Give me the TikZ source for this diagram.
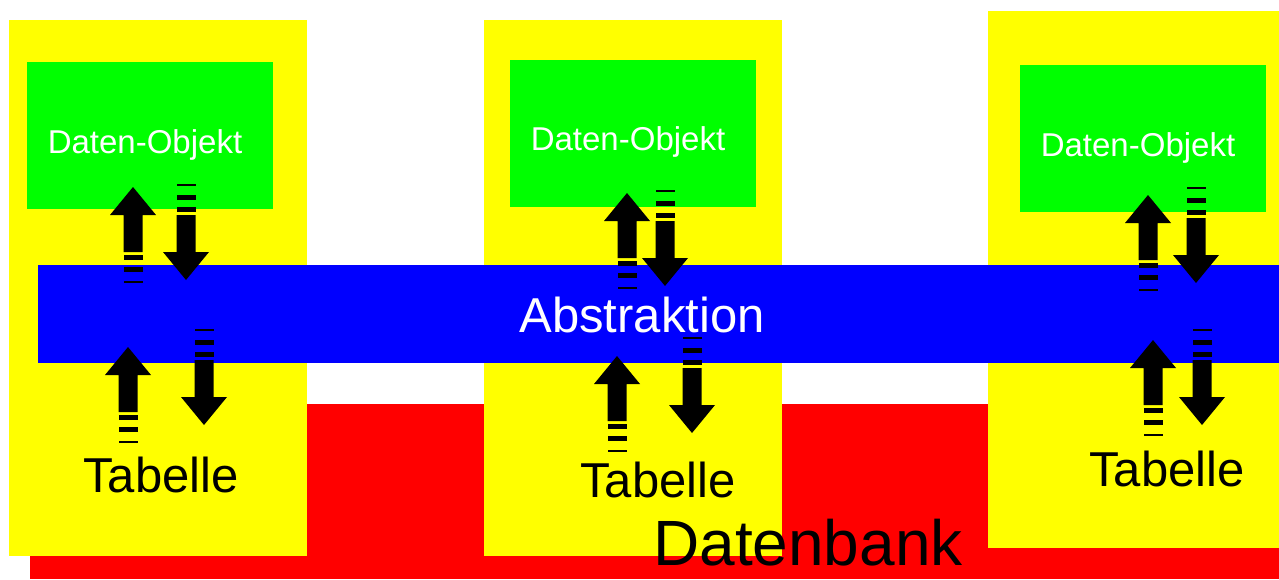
\documentclass[tikz,border=0pt]{standalone}
\usepackage{fontspec}
\setmainfont{Liberation Sans}
\definecolor{cyel}{HTML}{FFFF00}
\definecolor{cgrn}{HTML}{00FF00}
\definecolor{cblu}{HTML}{0000FF}
\definecolor{cred}{HTML}{FF0000}
\begin{document}
\begin{tikzpicture}[x=1pt,y=-1pt,
  area/.style={draw=none,inner sep=0pt,outer sep=0pt,anchor=north west},
  colbox/.style={area,fill=cyel,minimum width=298pt},
  objbox/.style={area,fill=cgrn,minimum width=246pt,minimum height=147pt},
  objtext/.style={text=white,font=\fontsize{33}{33}\selectfont,anchor=base,inner sep=0pt},
  tabtext/.style={text=black,font=\fontsize{49}{49}\selectfont,anchor=base,inner sep=0pt},
  stripedarrow/.pic={
    \fill[black] (0,0) -- (23,28) -- (9.5,28) -- (9.5,65) -- (-9.5,65) -- (-9.5,28) -- (-23,28) -- cycle;
    \fill[black] (-9.5,68) rectangle (9.5,73);
    \fill[black] (-9.5,80) rectangle (9.5,85);
    \fill[black] (-9.5,94) rectangle (9.5,96);
  }]
\useasboundingbox (0,0) rectangle (1279,579);
\fill[white] (0,0) rectangle (1279,579);
% database
\node[area,fill=cred,minimum width=1249pt,minimum height=175pt] (db) at (30,404) {};
% columns
\node[colbox,minimum height=536pt] (col1) at (9,20) {};
\node[colbox,minimum height=536pt] (col2) at (484,20) {};
\node[colbox,minimum width=291pt,minimum height=537pt] (col3) at (988,11) {};
% data objects
\node[objbox] (obj1) at (27,62) {};
\node[objbox] (obj2) at (510,60) {};
\node[objbox] (obj3) at (1020,65) {};
% abstraction band
\node[area,fill=cblu,minimum width=1241pt,minimum height=98pt] (abs) at (38,265) {};
% arrows
\pic at (133,187) {stripedarrow};
\pic[rotate=180] at (186,280) {stripedarrow};
\pic at (128,347) {stripedarrow};
\pic[rotate=180] at (204,425) {stripedarrow};
\pic at (627,193) {stripedarrow};
\pic[rotate=180] at (665,286) {stripedarrow};
\pic at (617,356) {stripedarrow};
\pic[rotate=180] at (692,433) {stripedarrow};
\pic at (1148,195) {stripedarrow};
\pic[rotate=180] at (1196,283) {stripedarrow};
\pic at (1153,340) {stripedarrow};
\pic[rotate=180] at (1202,425) {stripedarrow};
% texts
\node[objtext] (t1) at (145,153) {Daten-Objekt};
\node[objtext] (t2) at (628,150) {Daten-Objekt};
\node[objtext] (t3) at (1138,156) {Daten-Objekt};
\node[text=white,font=\fontsize{49}{49}\selectfont,anchor=base,inner sep=0pt] (abst) at (642,332) {Abstraktion};
\node[tabtext] (tab1) at (161,492) {Tabelle};
\node[tabtext] (tab2) at (658,497) {Tabelle};
\node[tabtext] (tab3) at (1167,486) {Tabelle};
\node[text=black,font=\fontsize{64}{64}\selectfont,anchor=base,inner sep=0pt] (dbt) at (808,565) {Datenbank};
\end{tikzpicture}
\end{document}
